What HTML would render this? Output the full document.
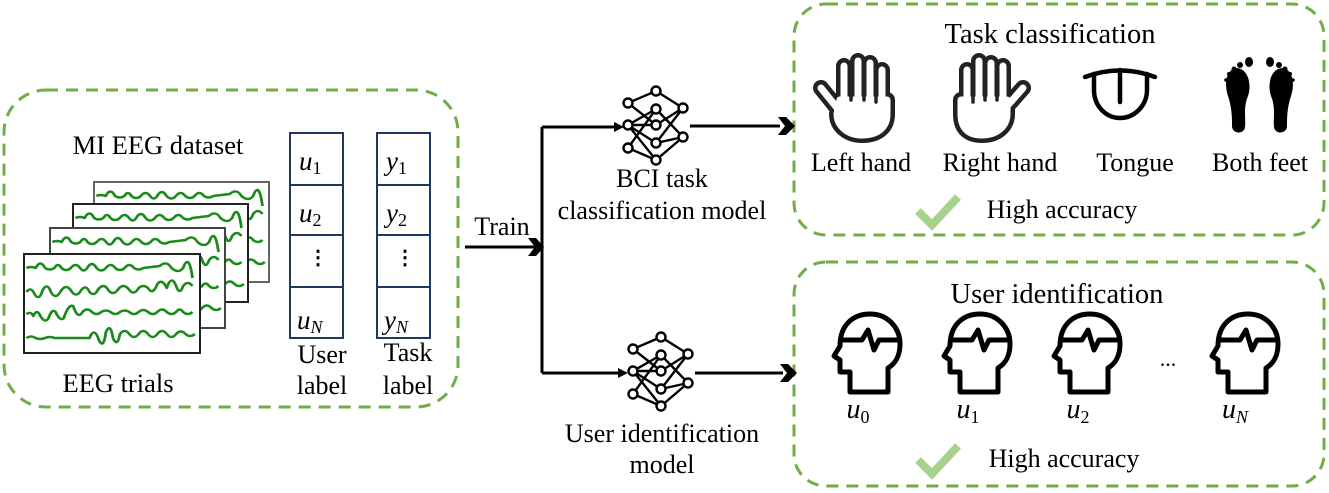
<!DOCTYPE html>
<html><head><meta charset="utf-8"><style>
html,body{margin:0;padding:0;background:#fff}
svg{display:block}
text{font-family:"Liberation Serif",serif;fill:#000}
.m{font-style:italic}
</style></head><body>
<svg width="1329" height="493" viewBox="0 0 1329 493" xmlns="http://www.w3.org/2000/svg">
<defs>
<g id="waves" fill="none" stroke="#1a8a1a" stroke-width="2.4" stroke-linejoin="round">
<path d="M2,14 q4,-2 8,0 q4,-9 8,0 q4,3 8,0 q3,-6 6,0 q4,4 8,0 q4,-6 8,0 q3,5 6,0 q4,-8 8,0 q4,5 8,0 q4,-6 8,0 q4,4 8,0 q4,-6 8,0 q4,3 8,0 l14,-2 q6,-6 10,2 q6,6 10,0 q5,-16 8,10"/>
<path d="M2,38 q4,-6 7,2 q4,8 7,-4 q4,-8 7,2 q4,8 8,0 q5,-10 10,0 q4,6 8,-2 q4,-6 7,2 q4,5 7,-2 q5,-8 9,0 q4,6 8,0 q5,-8 10,0 q4,6 8,-2 q4,-4 8,0 q4,8 8,-4 q4,-6 8,4 q4,-14 8,-2 q3,10 6,0 q4,-6 8,0"/>
<path d="M2,60 q4,-3 6,2 q3,-8 6,0 q4,8 7,2 q3,-10 6,-6 q4,10 7,6 q4,-14 8,-12 q4,14 8,6 q4,-5 8,0 q4,4 8,0 q4,-3 8,0 q4,4 8,0 q4,-3 8,0 q4,4 8,0 q4,-4 8,0 q4,4 8,0 q4,-5 8,0 q4,4 8,0 q3,-5 6,0 q4,4 8,0"/>
<path d="M2,84 q4,-3 8,0 q4,2 8,0 q4,-2 8,0 l30,0 q4,-12 8,2 q4,10 6,-8 q4,-10 6,6 q4,10 6,-4 q4,-6 8,0 q4,6 8,0 q4,-6 8,0 q4,6 8,0 q4,-6 8,0 q4,6 8,0 q4,-5 8,0 q4,4 8,0"/>
</g>
<g id="nn" fill="#fff" stroke="#000" stroke-width="2.4">
<path fill="none" d="M0,10 L28,-6 M0,10 L28,10 M0,10 L28,28 M0,10 L28,45 M0,-12 L28,10 M0,33 L28,-6 M28,-24 L55,-7 M28,-6 L55,22 M28,10 L55,-7 M28,28 L55,-7 M28,28 L55,22 M28,45 L55,22 M0,-12 L28,-24 M0,33 L28,45"/>
<circle cx="0" cy="-12" r="4.5"/><circle cx="0" cy="10" r="4.5"/><circle cx="0" cy="33" r="4.5"/>
<circle cx="28" cy="-24" r="4.5"/><circle cx="28" cy="-6" r="4.5"/><circle cx="28" cy="10" r="4.5"/><circle cx="28" cy="28" r="4.5"/><circle cx="28" cy="45" r="4.5"/>
<circle cx="55" cy="-7" r="4.5"/><circle cx="55" cy="22" r="4.5"/>
</g>
<g id="head" fill="none" stroke="#000" stroke-width="5" stroke-linejoin="round">
<path d="M18,82 V62 H8 V50 L2,46 L8,36 C8,14 22,4 38,4 C56,4 68,18 68,34 C68,46 63,54 56,58 V82 Z"/>
<path d="M8,30 H30 L36,20 L42,40 L47,30 H68"/>
</g>
<g id="chk"><path d="M0,18 L14,32 L40,4" fill="none" stroke="#a9d18e" stroke-width="8"/></g>
</defs>

<g fill="none" stroke="#70ad47" stroke-width="3" stroke-dasharray="12,8">
<rect x="4" y="90" width="454" height="317" rx="42"/>
<rect x="794" y="4" width="530" height="231" rx="32"/>
<rect x="794" y="262" width="530" height="224" rx="32"/>
</g>

<rect x="94" y="182" width="175" height="100" fill="#fff" stroke="#666" stroke-width="2"/><use href="#waves" transform="translate(94,182) scale(1.17,1)"/>
<rect x="73" y="204" width="175" height="98" fill="#fff" stroke="#222" stroke-width="2"/><use href="#waves" transform="translate(73,204) scale(1.17,1)"/>
<rect x="50" y="228" width="175" height="100" fill="#fff" stroke="#444" stroke-width="2"/><use href="#waves" transform="translate(50,228) scale(1.17,1)"/>
<rect x="24" y="254" width="176" height="99" fill="#fff" stroke="#222" stroke-width="2"/><use href="#waves" transform="translate(24,254) scale(1.17,1)"/>

<text x="158" y="154" font-size="26.5" text-anchor="middle">MI EEG dataset</text>
<text x="118" y="392" font-size="26.5" text-anchor="middle">EEG trials</text>

<g fill="none" stroke="#1f3864" stroke-width="2">
<rect x="290" y="133" width="53" height="205"/>
<path d="M290,185 H343 M290,235 H343 M290,287 H343"/>
<rect x="377" y="133" width="53" height="205"/>
<path d="M377,185 H430 M377,235 H430 M377,287 H430"/>
</g>
<g font-size="27">
<text x="299" y="170" class="m">u<tspan font-size="18" dy="4" font-style="normal">1</tspan></text>
<text x="299" y="222" class="m">u<tspan font-size="18" dy="4" font-style="normal">2</tspan></text>
<text x="297" y="329" class="m">u<tspan font-size="18" dy="4">N</tspan></text>
<text x="386" y="170" class="m">y<tspan font-size="18" dy="4" font-style="normal">1</tspan></text>
<text x="386" y="222" class="m">y<tspan font-size="18" dy="4" font-style="normal">2</tspan></text>
<text x="384" y="329" class="m">y<tspan font-size="18" dy="4">N</tspan></text>
</g>
<text x="308" y="264" font-size="20" font-weight="bold">⋮</text>
<text x="395" y="264" font-size="20" font-weight="bold">⋮</text>
<text x="322" y="363" font-size="26" text-anchor="middle">User</text>
<text x="322" y="394" font-size="26" text-anchor="middle">label</text>
<text x="408" y="361" font-size="26" text-anchor="middle">Task</text>
<text x="408" y="394" font-size="26" text-anchor="middle">label</text>

<g fill="none" stroke="#000" stroke-width="3">
<path d="M465,247 H540 M542,127 V373 M542,127 H616 M542,373 H620 M690,126 H780 M695,373 H783"/>
</g>
<g fill="#000">
<path d="M528,238 L536,238 L544,247 L536,256 L528,256 L535,247 Z"/>
<path d="M614,122 L624,127 L614,132 Z"/>
<path d="M618,368 L628,373 L618,378 Z"/>
<path d="M778,117 L786,117 L795,126 L786,135 L778,135 L785,126 Z"/>
<path d="M780,364 L788,364 L797,373 L788,382 L780,382 L787,373 Z"/>
</g>
<text x="502" y="235" font-size="26" text-anchor="middle">Train</text>
<use href="#nn" x="628" y="115"/>
<use href="#nn" x="633" y="361"/>
<text x="662" y="187" font-size="26" text-anchor="middle">BCI task</text>
<text x="662" y="219" font-size="26" text-anchor="middle">classification model</text>
<text x="662" y="442" font-size="26" text-anchor="middle">User identification</text>
<text x="662" y="473" font-size="26" text-anchor="middle">model</text>

<text x="1050" y="43" font-size="28.5" text-anchor="middle">Task classification</text>
<g fill="none" stroke-linecap="round" stroke-linejoin="round">
<g stroke="#222" stroke-width="16">
<path d="M844,66 V98 M858,61 V98 M870,63 V98 M882,70 V102 M821,88 L842,114"/>
<path d="M840,100 H887 V114 C887,128 877,135 862,135 C848,135 837,126 837,114 Z"/>
<path d="M967,70 V102 M979,61 V98 M991,63 V98 M1003,66 V98 M1023,88 L1000,114"/>
<path d="M961,100 H1007 V114 C1007,126 997,135 982,135 C968,135 961,128 961,114 Z"/>
</g>
<g stroke="#fff" stroke-width="7">
<path d="M844,66 V98 M858,61 V98 M870,63 V98 M882,70 V102 M821,88 L842,114"/>
<path d="M840,100 H887 V114 C887,128 877,135 862,135 C848,135 837,126 837,114 Z" fill="#fff"/>
<path d="M967,70 V102 M979,61 V98 M991,63 V98 M1003,66 V98 M1023,88 L1000,114"/>
<path d="M961,100 H1007 V114 C1007,126 997,135 982,135 C968,135 961,128 961,114 Z" fill="#fff"/>
</g>
<g stroke="#222" stroke-width="3.5">
<path d="M851,100 V84 M864,100 V84 M876,102 V88"/>
<path d="M973,102 V88 M985,100 V84 M997,100 V84"/>
</g>
</g>
<g fill="none" stroke="#000" stroke-width="4.5" stroke-linecap="round">
<path d="M1085,77 Q1120,64 1155,77"/>
<path d="M1094,74 V90 C1094,106 1106,118 1120,118 C1134,118 1147,106 1147,90 V74"/>
<path d="M1120,70 V102"/>
</g>
<g fill="#000">
<path d="M1236,68 C1226,70 1224,84 1228,96 C1232,108 1232,118 1232,126 C1232,134 1244,135 1245,127 C1246,118 1243,108 1248,96 C1252,84 1248,68 1236,68 Z"/>
<path d="M1283,68 C1293,70 1295,84 1291,96 C1287,108 1287,118 1287,126 C1287,134 1275,135 1274,127 C1273,118 1276,108 1271,96 C1267,84 1271,68 1283,68 Z"/>
<ellipse cx="1249" cy="62" rx="4" ry="5"/><circle cx="1240" cy="65" r="3"/><circle cx="1234" cy="69" r="2.5"/><circle cx="1229" cy="74" r="2"/><circle cx="1226" cy="80" r="1.8"/>
<ellipse cx="1270" cy="62" rx="4" ry="5"/><circle cx="1279" cy="65" r="3"/><circle cx="1285" cy="69" r="2.5"/><circle cx="1290" cy="74" r="2"/><circle cx="1293" cy="80" r="1.8"/>
</g>
<g font-size="26" text-anchor="middle">
<text x="861" y="171">Left hand</text>
<text x="1000" y="171">Right hand</text>
<text x="1135" y="171">Tongue</text>
<text x="1260" y="171">Both feet</text>
</g>
<use href="#chk" x="918" y="193"/>
<text x="1062" y="218" font-size="26" text-anchor="middle">High accuracy</text>

<text x="1057" y="303" font-size="28.5" text-anchor="middle">User identification</text>
<use href="#head" x="832" y="310"/>
<use href="#head" x="942" y="310"/>
<use href="#head" x="1052" y="310"/>
<use href="#head" x="1210" y="310"/>
<text x="1168" y="366" font-size="22" text-anchor="middle">...</text>
<g font-size="28">
<text x="858" y="418" text-anchor="middle" class="m">u<tspan font-size="18" dy="5" font-style="normal">0</tspan></text>
<text x="968" y="418" text-anchor="middle" class="m">u<tspan font-size="18" dy="5" font-style="normal">1</tspan></text>
<text x="1078" y="418" text-anchor="middle" class="m">u<tspan font-size="18" dy="5" font-style="normal">2</tspan></text>
<text x="1235" y="418" text-anchor="middle" class="m">u<tspan font-size="18" dy="5">N</tspan></text>
</g>
<use href="#chk" x="918" y="442"/>
<text x="1064" y="467" font-size="26" text-anchor="middle">High accuracy</text>
</svg>
</body></html>
